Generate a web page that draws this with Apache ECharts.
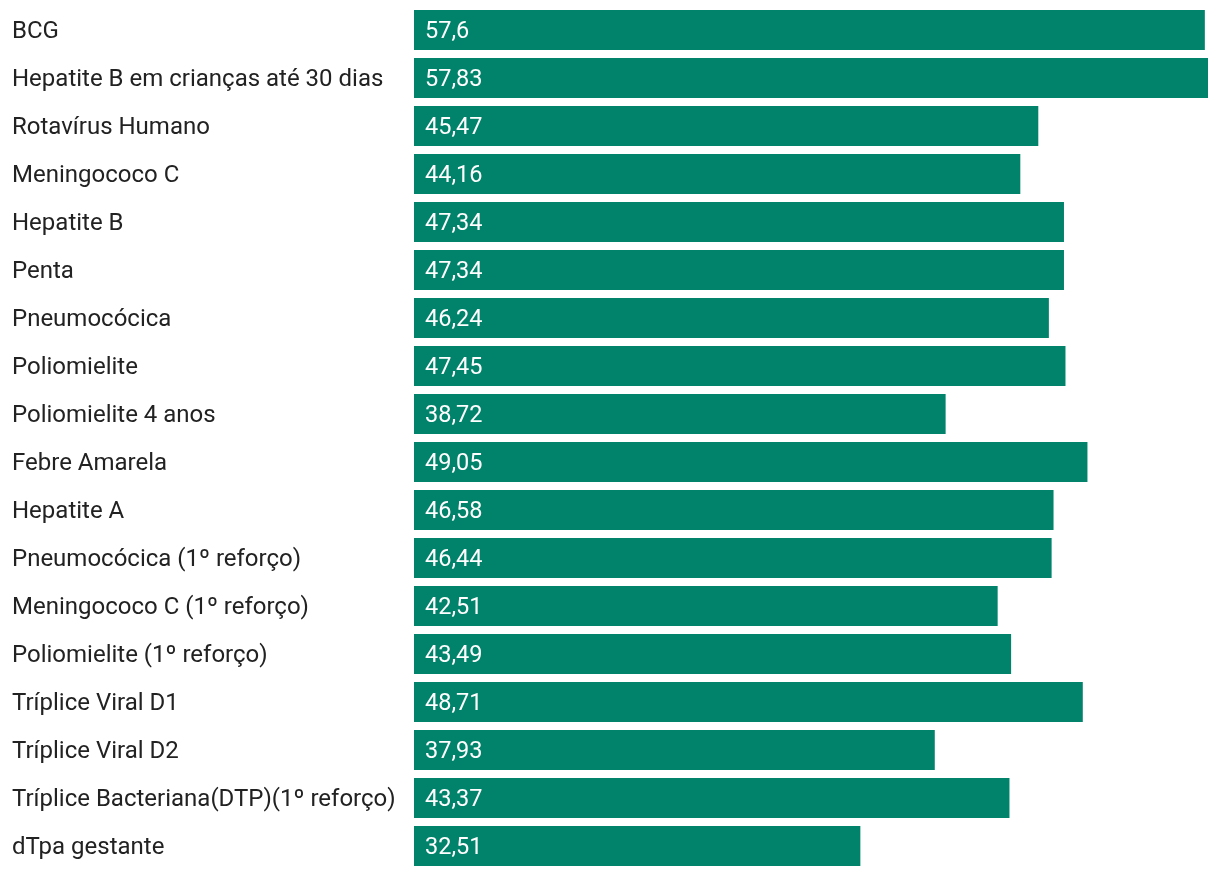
<!DOCTYPE html>
<html>
<head>
<meta charset="utf-8">
<script src="https://cdn.jsdelivr.net/npm/echarts@6/dist/echarts.min.js"></script>
<style>html,body{margin:0;padding:0;background:#fff}#c{width:1220px;height:876px}</style>
</head>
<body>
<div id="c"></div>
<script>
const categories = ["BCG","Hepatite B em crianças até 30 dias","Rotavírus Humano","Meningococo C","Hepatite B","Penta","Pneumocócica","Poliomielite","Poliomielite 4 anos","Febre Amarela","Hepatite A","Pneumocócica (1º reforço)","Meningococo C (1º reforço)","Poliomielite (1º reforço)","Tríplice Viral D1","Tríplice Viral D2","Tríplice Bacteriana(DTP)(1º reforço)","dTpa gestante"];
const values = [57.6,57.83,45.47,44.16,47.34,47.34,46.24,47.45,38.72,49.05,46.58,46.44,42.51,43.49,48.71,37.93,43.37,32.51];

const chart = echarts.init(document.getElementById('c'));
chart.setOption({
  animation:false,
  grid:{left:414,right:12,top:6,bottom:6,containLabel:false},
  xAxis:{type:'value',min:0,max:57.83,show:false},
  yAxis:{type:'category',data:categories,inverse:true,
    axisLine:{show:false},axisTick:{show:false},
    axisLabel:{align:'left',margin:402,
      formatter:v=>'{a|'+v+'}',
      rich:{a:{fontFamily:'Roboto',fontSize:24,color:'#222222',padding:[4,0,0,0]}}}},
  series:[{type:'bar',data:values,barWidth:40,
    itemStyle:{color:'#00836A'},
    label:{show:true,position:'insideLeft',offset:[6,2],fontFamily:'Roboto',fontSize:23.5,color:'#ffffff',
      formatter:p=>String(p.value).replace('.',',')}}]
});
</script>
</body>
</html>
